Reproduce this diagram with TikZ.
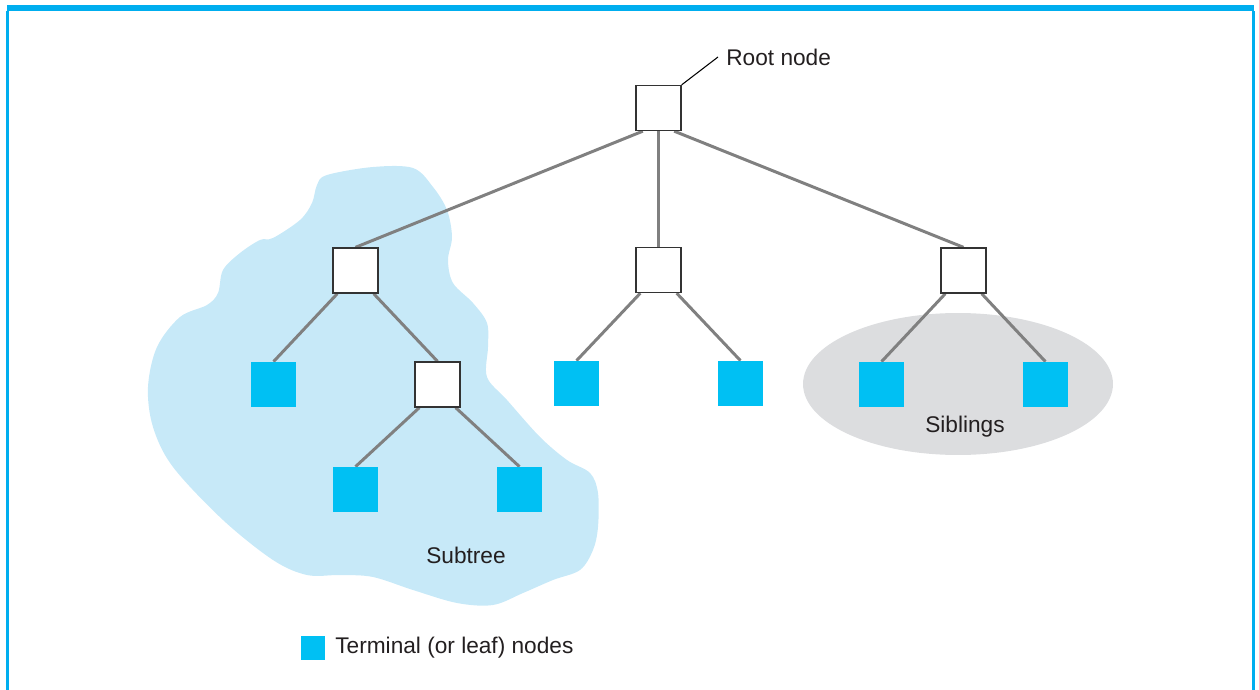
\documentclass[tikz,border=0pt]{standalone}
\usepackage{fontspec}
\setmainfont{Liberation Sans}
\usetikzlibrary{positioning,shapes.geometric}
\definecolor{framecyan}{HTML}{00AEEF}
\definecolor{leafcyan}{HTML}{00C0F3}
\definecolor{blobblue}{HTML}{C7E9F8}
\definecolor{sibgray}{HTML}{DCDDDF}
\definecolor{inkgray}{HTML}{231F20}
\tikzset{
  inner/.style={draw=black!80, line width=0.75pt, fill=white, minimum size=0.9cm, inner sep=0pt},
  leaf/.style={fill=leafcyan, minimum size=0.9cm, inner sep=0pt},
  edge/.style={draw=black!50, line width=1.7pt},
  lbl/.style={font=\fontsize{12.9}{15}\selectfont, text=inkgray, inner sep=0pt},
  frameline/.style={draw=framecyan, line width=1.3pt}}

\begin{document}
\begin{tikzpicture}[x=0.02cm, y=-0.02cm]
  \useasboundingbox (0,0) rectangle (1259,690);
  % frame
  \fill[framecyan] (7,5) rectangle (1254,11);
  \draw[frameline] (7.5,11) -- (7.5,690);
  \draw[frameline] (1253.5,11) -- (1253.5,690);
  % subtree blob and siblings ellipse
  \fill[blobblue] plot[smooth cycle, tension=0.55] coordinates {
    (317,185) (327,175) (373,167) (413,168) (433,187) (447,210) (452,237)
    (448,260) (453,283) (473,303) (487,323) (488,347) (487,377) (507,400)
    (540,437) (567,460) (590,473) (598,493) (598,527) (593,550) (580,570)
    (553,580) (523,593) (493,605) (457,603) (413,590) (373,577) (340,575)
    (307,575) (273,560) (223,520) (173,467) (153,427) (148,387) (157,347)
    (180,317) (207,305) (218,293) (223,270) (240,253) (260,240) (273,238)
    (300,220) (312,203)};
  \node[ellipse, fill=sibgray, minimum width=6.2cm, minimum height=2.84cm] (sib) at (958,384) {};
  % nodes
  \node[inner] (root) at (658.5,108) {};
  \node[inner] (a) at (355.5,270.5) {};
  \node[inner] (b) at (658.5,270) {};
  \node[inner] (c) at (963.5,270.5) {};
  \node[leaf] (a1) at (273.5,384.5) {};
  \node[inner] (a2) at (437.5,384.5) {};
  \node[leaf] (a21) at (355.5,489.5) {};
  \node[leaf] (a22) at (519.5,489.5) {};
  \node[leaf] (b1) at (576.5,383.5) {};
  \node[leaf] (b2) at (740.5,383.5) {};
  \node[leaf] (c1) at (881.5,384.5) {};
  \node[leaf] (c2) at (1045.5,384.5) {};
  % edges
  \draw[edge] ([xshift=0.15cm]root.south west) -- (a.north);
  \draw[edge] (root.south) -- (b.north);
  \draw[edge] ([xshift=-0.15cm]root.south east) -- (c.north);
  \draw[edge] ([xshift=0.1cm]a.south west) -- (a1.north);
  \draw[edge] ([xshift=-0.1cm]a.south east) -- (a2.north);
  \draw[edge] ([xshift=0.1cm]a2.south west) -- (a21.north);
  \draw[edge] ([xshift=-0.1cm]a2.south east) -- (a22.north);
  \draw[edge] ([xshift=0.1cm]b.south west) -- (b1.north);
  \draw[edge] ([xshift=-0.1cm]b.south east) -- (b2.north);
  \draw[edge] ([xshift=0.1cm]c.south west) -- (c1.north);
  \draw[edge] ([xshift=-0.1cm]c.south east) -- (c2.north);
  % redraw boxes over edge ends
  \foreach \n in {root,a,b,c,a2} \node[inner] at (\n) {};
  \foreach \n in {a1,a21,a22,b1,b2,c1,c2} \node[leaf] at (\n) {};
  % labels
  \node[lbl, anchor=west, inner sep=0.16cm] (rootlbl) at (718,57) {Root node};
  \draw[black, line width=0.6pt] (root.north east) -- (rootlbl.west);
  \node[lbl] (subtree) at (466,555) {Subtree};
  \node[lbl] (siblings) at (965,427) {Siblings};
  \node[leaf, minimum size=0.48cm] (key) at (313,648) {};
  \node[lbl, anchor=west] (keylbl) at (335,648) {Terminal (or leaf) nodes};
\end{tikzpicture}
\end{document}
